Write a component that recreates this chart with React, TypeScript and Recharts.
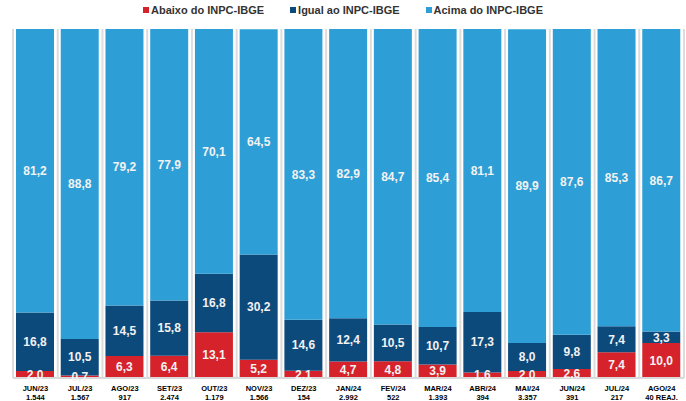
import { BarChart, Bar, XAxis, YAxis, LabelList, ReferenceLine } from 'recharts';

const months = ['JUN/23', 'JUL/23', 'AGO/23', 'SET/23', 'OUT/23', 'NOV/23', 'DEZ/23', 'JAN/24', 'FEV/24', 'MAR/24', 'ABR/24', 'MAI/24', 'JUN/24', 'JUL/24', 'AGO/24'];
const counts = ['1.544', '1.567', '917', '2.474', '1.179', '1.566', '154', '2.992', '522', '1.393', '394', '3.357', '391', '217', '40 REAJ.'];

const abaixo = [2.0, 0.7, 6.3, 6.4, 13.1, 5.2, 2.1, 4.7, 4.8, 3.9, 1.6, 2.0, 2.6, 7.4, 10.0];
const igual = [16.8, 10.5, 14.5, 15.8, 16.8, 30.2, 14.6, 12.4, 10.5, 10.7, 17.3, 8.0, 9.8, 7.4, 3.3];
const acima = [81.2, 88.8, 79.2, 77.9, 70.1, 64.5, 83.3, 82.9, 84.7, 85.4, 81.1, 89.9, 87.6, 85.3, 86.7];

const data = months.map((m, i) => ({
  month: m,
  count: counts[i],
  abaixo: abaixo[i],
  igual: igual[i],
  acima: acima[i],
}));

const RED = '#d6232b';
const DARK = '#0d4a7c';
const LIGHT = '#2e9fd6';
const FONT = '"Liberation Sans", Arial, sans-serif';

const fmt = (v: any) => Number(v).toFixed(1).replace('.', ',');

const MonthTick = (props: any) => {
  const { x, y, payload, index } = props;
  return (
    <text x={x} y={y} textAnchor="middle" fontFamily={FONT} fontSize={7.5} fontWeight="bold" fill="#000">
      <tspan x={x} dy={5}>{payload.value}</tspan>
      <tspan x={x} dy={8.5}>{counts[index]}</tspan>
    </text>
  );
};

const legendItems = [
  { label: 'Abaixo do INPC-IBGE', color: RED },
  { label: 'Igual ao INPC-IBGE', color: DARK },
  { label: 'Acima do INPC-IBGE', color: LIGHT },
];

const labelStyle = { fill: '#f2f2f2', fontSize: 12, fontWeight: 'bold', fontFamily: FONT };

export default function App() {
  return (
    <div style={{ position: 'absolute', left: 0, top: 0, width: 686, height: 401, background: '#fff' }}>
      <div
        style={{
          position: 'absolute',
          top: 4,
          left: 0,
          width: 686,
          display: 'flex',
          justifyContent: 'center',
          gap: 26,
          fontFamily: FONT,
          fontSize: 11,
          fontWeight: 'bold',
          color: '#333',
        }}
      >
        {legendItems.map((l) => (
          <div key={l.label} style={{ display: 'flex', alignItems: 'center', gap: 2 }}>
            <span style={{ width: 6, height: 6, background: l.color, display: 'inline-block' }} />
            <span>{l.label}</span>
          </div>
        ))}
      </div>
      <BarChart
        width={686}
        height={401}
        data={data}
        margin={{ top: 29, right: 2, left: 13, bottom: 0 }}
        barSize={38}
      >
        <YAxis hide domain={[0, 100]} allowDataOverflow />
        <XAxis
          dataKey="month"
          interval={0}
          height={23}
          tickLine={false}
          axisLine={{ stroke: '#d9d9d9', strokeWidth: 2 }}
          tick={<MonthTick />}
        />
        {months.map((m) => (
          <ReferenceLine key={m} x={m} position="start" stroke="#dcdcdc" strokeWidth={2} />
        ))}
        <ReferenceLine x={months[months.length - 1]} position="end" stroke="#dcdcdc" strokeWidth={2} />
        <Bar dataKey="abaixo" stackId="a" fill={RED} isAnimationActive={false}>
          <LabelList dataKey="abaixo" position="center" formatter={fmt} style={labelStyle} />
        </Bar>
        <Bar dataKey="igual" stackId="a" fill={DARK} isAnimationActive={false}>
          <LabelList dataKey="igual" position="center" formatter={fmt} style={labelStyle} />
        </Bar>
        <Bar dataKey="acima" stackId="a" fill={LIGHT} isAnimationActive={false}>
          <LabelList dataKey="acima" position="center" formatter={fmt} style={labelStyle} />
        </Bar>
      </BarChart>
    </div>
  );
}
